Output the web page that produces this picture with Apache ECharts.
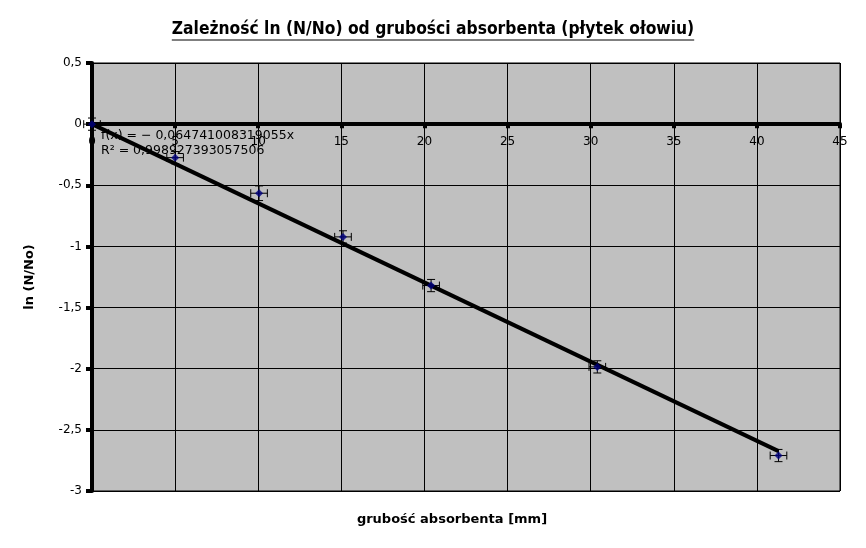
<!DOCTYPE html>
<html><head><meta charset="utf-8">
<script src="https://cdn.jsdelivr.net/npm/echarts@6/dist/echarts.min.js"></script>
<style>html,body{margin:0;padding:0;background:#fff}#c{width:866px;height:548px}</style>
</head><body><div id="c"></div>
<script>
// Data
var titleText = 'Zależność ln (N/No) od grubości absorbenta (płytek ołowiu)';
var xName = 'grubość absorbenta [mm]';
var yName = 'ln (N/No)';
var xVals = [0, 5, 10.05, 15.1, 20.4, 30.4, 41.3];
var yVals = [0, -0.274, -0.565, -0.922, -1.32, -1.985, -2.71];
var xErr = [0.5, 0.5, 0.5, 0.5, 0.5, 0.5, 0.5];
var yErr = [0.05, 0.05, 0.06, 0.05, 0.05, 0.05, 0.05];
var slope = -0.064741008319055;
var eqText = 'f(x) = − 0,064741008319055x';
var r2Text = 'R² = 0,998927393057506';
var xMin = 0, xMax = 45, xStep = 5;
var yMin = -3, yMax = 0.5, yStep = 0.5;

var FONT = '"DejaVu Sans", sans-serif';
var chart = echarts.init(document.getElementById('c'), null, {renderer: 'canvas'});
var pts = xVals.map(function (x, i) { return [x, yVals[i]]; });
var errData = xVals.map(function (x, i) { return [x, yVals[i], xErr[i], yErr[i]]; });
var xMaxData = Math.max.apply(null, xVals);
var trend = [[0, 0], [xMaxData, slope * xMaxData]];

function fmt(v) { return String(v).replace('.', ','); }

var gridTop = 63, gridBottom = 57, H = 548;
var plotH = H - gridTop - gridBottom;
var zeroOffset = plotH * (0 - yMin) / (yMax - yMin);

var titleFont = 'bold 17.3px "DejaVu Sans Condensed", "DejaVu Sans"';
var ctx = document.createElement('canvas').getContext('2d');
ctx.font = titleFont;
var tw = ctx.measureText(titleText).width;
var tcx = 433, tcy = 30;

chart.setOption({
  animation: false,
  backgroundColor: '#ffffff',
  grid: {left: 92, right: 26, top: gridTop, bottom: gridBottom, show: true, backgroundColor: '#c0c0c0', borderColor: '#000', borderWidth: 1},
  xAxis: {
    type: 'value', min: xMin, max: xMax, interval: xStep, position: 'bottom', offset: -zeroOffset,
    axisLine: {onZero: false, lineStyle: {color: '#000', width: 4}},
    axisTick: {show: true, inside: false, length: 4, lineStyle: {color: '#000', width: 4}},
    axisLabel: {color: '#000', fontFamily: FONT, fontSize: 12, margin: 12, formatter: fmt},
    splitLine: {show: true, lineStyle: {color: '#000', width: 1}}
  },
  yAxis: {
    type: 'value', min: yMin, max: yMax, interval: yStep,
    axisLine: {onZero: false, lineStyle: {color: '#000', width: 4}},
    axisTick: {show: true, length: 6, lineStyle: {color: '#000', width: 4}},
    axisLabel: {color: '#000', fontFamily: FONT, fontSize: 12, margin: 10, formatter: fmt},
    splitLine: {show: true, lineStyle: {color: '#000', width: 1}}
  },
  series: [
    {
      type: 'line', data: trend, symbol: 'none', z: 3,
      lineStyle: {color: '#000', width: 4}
    },
    {
      type: 'custom', z: 4,
      data: errData,
      renderItem: function (params, api) {
        var x = api.value(0), y = api.value(1), ex = api.value(2), ey = api.value(3);
        var c = api.coord([x, y]);
        var l = api.coord([x - ex, y]), r = api.coord([x + ex, y]);
        var t = api.coord([x, y + ey]), b = api.coord([x, y - ey]);
        var cap = 4;
        var st = {stroke: '#000', lineWidth: 1};
        return {type: 'group', children: [
          {type: 'line', shape: {x1: l[0], y1: c[1], x2: r[0], y2: c[1]}, style: st},
          {type: 'line', shape: {x1: l[0], y1: c[1] - cap, x2: l[0], y2: c[1] + cap}, style: st},
          {type: 'line', shape: {x1: r[0], y1: c[1] - cap, x2: r[0], y2: c[1] + cap}, style: st},
          {type: 'line', shape: {x1: c[0], y1: t[1], x2: c[0], y2: b[1]}, style: st},
          {type: 'line', shape: {x1: c[0] - cap, y1: t[1], x2: c[0] + cap, y2: t[1]}, style: st},
          {type: 'line', shape: {x1: c[0] - cap, y1: b[1], x2: c[0] + cap, y2: b[1]}, style: st}
        ]};
      }
    },
    {
      type: 'scatter', data: pts, symbol: 'diamond', symbolSize: 8, z: 5,
      itemStyle: {color: '#000080'}
    }
  ],
  graphic: [
    {type: 'text', x: tcx, y: tcy, style: {text: titleText, fill: '#000', font: titleFont, textAlign: 'center', textVerticalAlign: 'middle'}},
    {type: 'line', shape: {x1: tcx - tw / 2, y1: tcy + 10, x2: tcx + tw / 2, y2: tcy + 10}, style: {stroke: '#000', lineWidth: 1}},
    {type: 'text', x: 452, y: 520, style: {text: xName, fill: '#000', font: 'bold 13px "DejaVu Sans"', textAlign: 'center', textVerticalAlign: 'middle'}},
    {type: 'text', x: 30, y: 277, rotation: Math.PI / 2, style: {text: yName, fill: '#000', font: 'bold 13px "DejaVu Sans"', textAlign: 'center', textVerticalAlign: 'middle'}},
    {type: 'text', x: 101, y: 136, z: 10, style: {text: eqText, fill: '#000', font: '12.5px "DejaVu Sans"', textVerticalAlign: 'middle'}},
    {type: 'text', x: 101, y: 151, z: 10, style: {text: r2Text, fill: '#000', font: '12.5px "DejaVu Sans"', textVerticalAlign: 'middle'}}
  ]
});
</script></body></html>
